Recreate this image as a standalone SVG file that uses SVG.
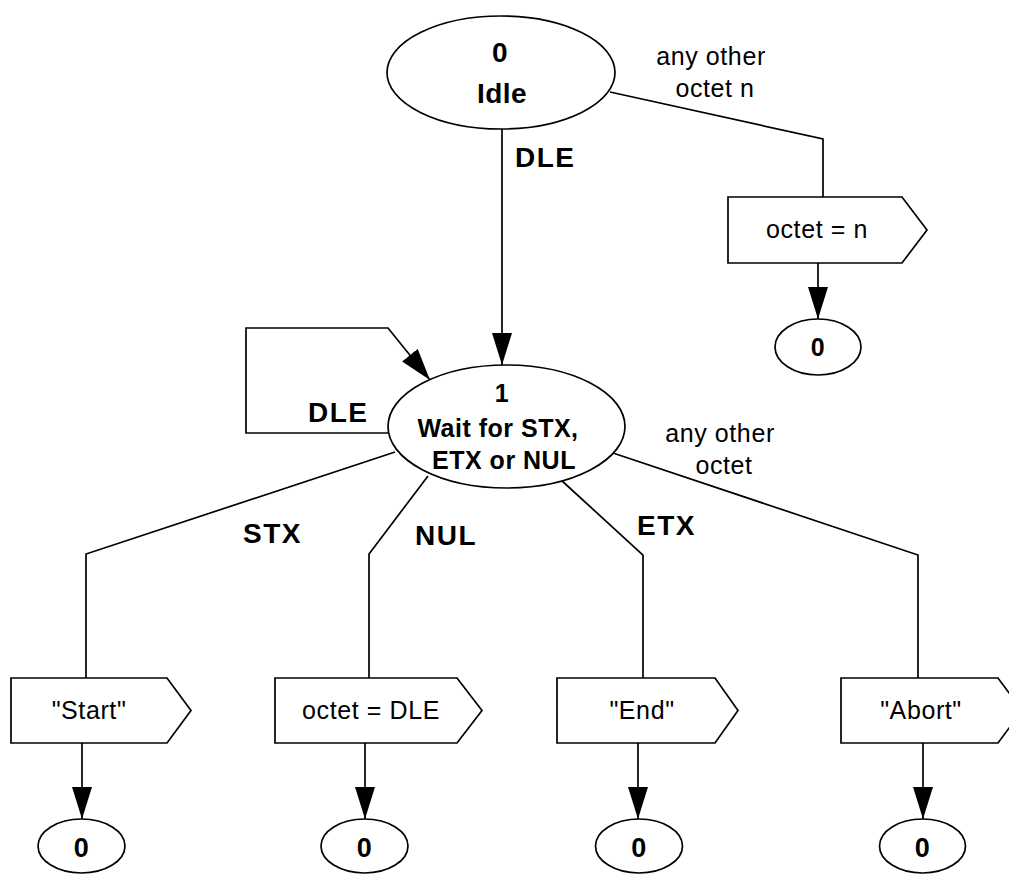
<svg xmlns="http://www.w3.org/2000/svg" width="1009" height="875" viewBox="0 0 1009 875">
<style>
.shape{fill:#fff;stroke:#000;stroke-width:1.7}
.con{fill:none;stroke:#000;stroke-width:1.7}
.st{font-family:"Liberation Sans",Arial,sans-serif;font-weight:bold;font-size:28px;letter-spacing:0.5px;text-anchor:middle}
.md{font-size:25px}
.zr{font-size:27px}
.lb{font-family:"Liberation Sans",Arial,sans-serif;font-weight:bold;font-size:28px;letter-spacing:1.5px}
.rg{font-family:"Liberation Sans",Arial,sans-serif;font-size:25px;letter-spacing:0.6px;text-anchor:middle}
</style>
<defs>
<marker id="arr" markerUnits="userSpaceOnUse" markerWidth="32" markerHeight="20" refX="32" refY="10" orient="auto">
<path d="M0,0 L32,10 L0,20 Z" fill="#000"/>
</marker>
</defs>
<rect width="1009" height="875" fill="#fff"/>
<g id="connectors">
<path class="con" d="M502,129 L502,365" marker-end="url(#arr)"/>
<path class="con" d="M388,433 L246,433 L246,328 L388,328 L430,380" marker-end="url(#arr)"/>
<path class="con" d="M610,92 L823,139 L823,197"/>
<path class="con" d="M818,263 L818,319" marker-end="url(#arr)"/>
<path class="con" d="M395,452 L86,554 L86,678"/>
<path class="con" d="M428,476 L369,554 L369,678"/>
<path class="con" d="M561,480 L643,555 L643,678"/>
<path class="con" d="M607,451 L918,555 L918,678"/>
<path class="con" d="M82,743 L82,819" marker-end="url(#arr)"/>
<path class="con" d="M365,743 L365,819" marker-end="url(#arr)"/>
<path class="con" d="M638,743 L638,819" marker-end="url(#arr)"/>
<path class="con" d="M923,743 L923,819" marker-end="url(#arr)"/>
</g>
<g id="labels">
<text class="lb" x="515" y="167">DLE</text>
<text class="lb" x="308" y="422">DLE</text>
<text class="lb" x="243" y="543">STX</text>
<text class="lb" x="415" y="545">NUL</text>
<text class="lb" x="637" y="535">ETX</text>
<text class="rg" x="711" y="65">any other</text>
<text class="rg" x="715" y="97">octet n</text>
<text class="rg" x="720" y="442">any other</text>
<text class="rg" x="724" y="474">octet</text>
</g>
<g id="state0">
<ellipse class="shape" cx="501" cy="72.5" rx="114" ry="56.5"/>
<text class="st" x="500" y="62">0</text>
<text class="st" x="502" y="103">Idle</text>
</g>
<g id="state1">
<ellipse class="shape" cx="506.5" cy="426.5" rx="118.5" ry="61.5"/>
<text class="st md" x="502" y="402">1</text>
<text class="st md" x="498" y="437">Wait for STX,</text>
<text class="st md" x="504" y="469">ETX or NUL</text>
</g>
<g id="out-n">
<path class="shape" d="M728,197 H902 L927,230 L902,263 H728 Z"/>
<text class="rg" x="817" y="238">octet = n</text>
</g>
<g id="next-a">
<ellipse class="shape" cx="818" cy="347" rx="43" ry="28"/>
<text class="st md" x="818" y="356">0</text>
</g>
<g id="out-start">
<path class="shape" d="M11,678 H167 L191,710.5 L167,743 H11 Z"/>
<text class="rg" x="89" y="719">"Start"</text>
</g>
<g id="out-dle">
<path class="shape" d="M275,678 H457 L482,710.5 L457,743 H275 Z"/>
<text class="rg" x="371" y="719">octet = DLE</text>
</g>
<g id="out-end">
<path class="shape" d="M557,678 H715 L738,710.5 L715,743 H557 Z"/>
<text class="rg" x="642" y="719">"End"</text>
</g>
<g id="out-abort">
<path class="shape" d="M841,678 H998 L1022,710.5 L998,743 H841 Z"/>
<text class="rg" x="921" y="719">"Abort"</text>
</g>
<g id="next-b">
<ellipse class="shape" cx="81.5" cy="846" rx="43.5" ry="27"/>
<text class="st zr" x="81.5" y="857">0</text>
</g>
<g id="next-c">
<ellipse class="shape" cx="364.5" cy="846" rx="43.5" ry="27"/>
<text class="st zr" x="364.5" y="857">0</text>
</g>
<g id="next-d">
<ellipse class="shape" cx="639" cy="846" rx="43.5" ry="27"/>
<text class="st zr" x="639" y="857">0</text>
</g>
<g id="next-e">
<ellipse class="shape" cx="922.5" cy="846" rx="43" ry="27"/>
<text class="st zr" x="922.5" y="857">0</text>
</g>
</svg>
